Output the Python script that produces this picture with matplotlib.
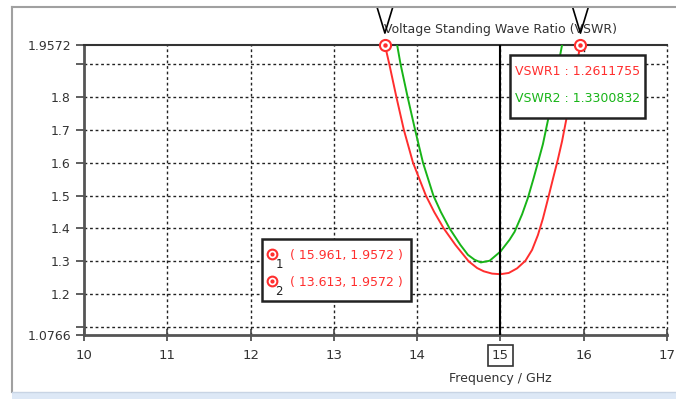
import matplotlib
matplotlib.use("Agg")
import matplotlib.pyplot as plt
from matplotlib.lines import Line2D
from matplotlib.patches import Rectangle
import matplotlib.transforms as mtransforms

# VSWR curves
freq1 = [13.613, 13.665, 13.75, 13.84, 13.95, 14.105, 14.205, 14.32, 14.46, 14.62,
         14.72, 14.80, 14.90, 15.00, 15.10, 15.20, 15.30, 15.38, 15.45, 15.51, 15.57,
         15.63, 15.69, 15.74, 15.79, 15.84, 15.90, 15.961]
vswr1 = [1.9572, 1.90, 1.80, 1.70, 1.60, 1.50, 1.45, 1.40, 1.35, 1.30,
         1.28, 1.27, 1.263, 1.2612, 1.265, 1.279, 1.302, 1.335, 1.380, 1.430, 1.489,
         1.550, 1.610, 1.665, 1.730, 1.800, 1.880, 1.9572]
freq2 = [13.76, 13.80, 13.885, 13.975, 14.07, 14.195, 14.285, 14.39, 14.52, 14.61,
         14.69, 14.765, 14.87, 15.00, 15.11, 15.17, 15.26, 15.33, 15.40, 15.45, 15.51,
         15.58, 15.66, 15.74]
vswr2 = [1.9572, 1.90, 1.80, 1.70, 1.60, 1.50, 1.45, 1.40, 1.35, 1.32,
         1.305, 1.297, 1.302, 1.330, 1.366, 1.390, 1.443, 1.493, 1.554, 1.600, 1.656,
         1.740, 1.850, 1.9572]

marker_f = [15.961, 13.613]
marker_v = [1.9572, 1.9572]
cursor_f = 15.0
cursor_vals = ["1.2611755", "1.3300832"]

x_ticks = [10, 11, 12, 13, 14, 15, 16, 17]
y_grid = [1.1, 1.2, 1.3, 1.4, 1.5, 1.6, 1.7, 1.8, 1.9]
y_ticks = [1.0766, 1.2, 1.3, 1.4, 1.5, 1.6, 1.7, 1.8, 1.9572]
y_min, y_max = 1.0766, 1.9572

RED = "#ff2e2e"
GREEN = "#18b418"
TXT = "#333333"
plt.rcParams['font.family'] = ['DejaVu Sans']

fig = plt.figure(figsize=(6.76, 3.99), dpi=100)
W, H = 676, 399
ax = fig.add_axes([84 / W, 1 - 335 / H, (667 - 84) / W, 290 / H])

# window frame
fig.add_artist(Line2D([12 / W, 12 / W], [1 - 392 / H, 1 - 7 / H], color="#a0a0a0", lw=1.5))
fig.add_artist(Line2D([12 / W, 1], [1 - 7 / H, 1 - 7 / H], color="#a0a0a0", lw=1.5))
fig.add_artist(Rectangle((12 / W, 0), 1, 7 / H, transform=fig.transFigure,
                         facecolor="#dde8f6", edgecolor="none"))
fig.add_artist(Line2D([12 / W, 1], [7 / H, 7 / H], color="#c8d4e4", lw=1))

ax.set_xlim(10, 17)
ax.set_ylim(y_min, y_max)

# grid
for g in y_grid:
    ax.axhline(g, color="#222222", lw=1, ls=(0, (2, 2)), zorder=0.5)
for g in x_ticks[1:]:
    ax.axvline(g, color="#222222", lw=1, ls=(0, (2, 2)), zorder=0.5, clip_on=False)

ax.plot(freq1, vswr1, color=RED, lw=1.4, zorder=3, solid_joinstyle="round")
ax.plot(freq2, vswr2, color=GREEN, lw=1.4, zorder=3, solid_joinstyle="round")

# cursor line
ax.axvline(cursor_f, color="black", lw=1.5, zorder=4)

# markers on top edge
ax.plot(marker_f, marker_v, ls="none", marker="o", ms=8, mfc="white", mec=RED,
        mew=1.5, clip_on=False, zorder=6)
ax.plot(marker_f, marker_v, ls="none", marker="o", ms=2.2, mfc=RED, mec=RED,
        clip_on=False, zorder=7)

# V-shaped pointers above markers
trans = mtransforms.blended_transform_factory(ax.transData, ax.transAxes)
for f in marker_f:
    ax.plot([f - 0.095, f, f + 0.095], [1.131, 1.041, 1.131], color="black", lw=1.2,
            transform=trans, clip_on=False, zorder=6)

# spines
for s in ["left", "bottom"]:
    ax.spines[s].set_color("#555555")
    ax.spines[s].set_linewidth(2)
ax.spines["top"].set_color("#333333")
ax.spines["top"].set_linewidth(1.5)
ax.spines["right"].set_visible(False)

ax.set_xticks(x_ticks)
ax.set_xticklabels([str(t) for t in x_ticks])
ax.set_yticks(y_ticks)
ax.set_yticklabels([f"{t:g}" for t in y_ticks])
ax.set_yticks(y_grid, minor=True)
ax.tick_params(axis="both", which="both", direction="out", length=6, width=1.2,
               color="#444444", labelsize=9, labelcolor=TXT)
ax.tick_params(axis="x", direction="inout", length=8, pad=6, labelsize=9.5)
ax.tick_params(axis="y", which="minor", length=6)

for lbl in ax.get_xticklabels():
    if lbl.get_text() == "15":
        lbl.set_bbox(dict(facecolor="white", edgecolor="#333333", lw=1.2, pad=2.8))

ax.set_xlabel("Frequency / GHz", fontsize=9, color=TXT)
ax.xaxis.set_label_coords((cursor_f - 10) / 7, -0.128)

ax.set_title("Voltage Standing Wave Ratio (VSWR)", fontsize=9, color=TXT,
             x=(cursor_f - 10) / 7, y=1.041, pad=0)

# cursor readout box
ax.add_patch(Rectangle((0.7307, 0.748), 0.2316, 0.2172, transform=ax.transAxes,
                       facecolor="white", edgecolor="#222222", lw=1.8, zorder=8))
ax.text(0.739, 0.907, f"VSWR1 : {cursor_vals[0]}", transform=ax.transAxes,
        fontsize=9, color=RED, va="center", zorder=9)
ax.text(0.739, 0.814, f"VSWR2 : {cursor_vals[1]}", transform=ax.transAxes,
        fontsize=9, color=GREEN, va="center", zorder=9)

# marker list box
ax.add_patch(Rectangle((0.3053, 0.1172), 0.2556, 0.2138, transform=ax.transAxes,
                       facecolor="white", edgecolor="#222222", lw=1.8, zorder=8))
for i, (f, v) in enumerate(zip(marker_f, marker_v)):
    yy = 0.2793 - i * 0.0931
    ax.plot([0.3225], [yy], transform=ax.transAxes, ls="none", marker="o", ms=7,
            mfc="white", mec=RED, mew=1.5, zorder=9)
    ax.plot([0.3225], [yy], transform=ax.transAxes, ls="none", marker="o", ms=2,
            mfc=RED, mec=RED, zorder=10)
    ax.text(0.3345, yy - 0.035, str(i + 1), transform=ax.transAxes, fontsize=8.5,
            color="#222222", va="center", ha="center", zorder=10)
    ax.text(0.3540, yy - 0.004, f"( {f:.3f}, {v:.4f} )", transform=ax.transAxes,
            fontsize=9, color=RED, va="center", zorder=10)

fig.savefig("out.png", dpi=100)
